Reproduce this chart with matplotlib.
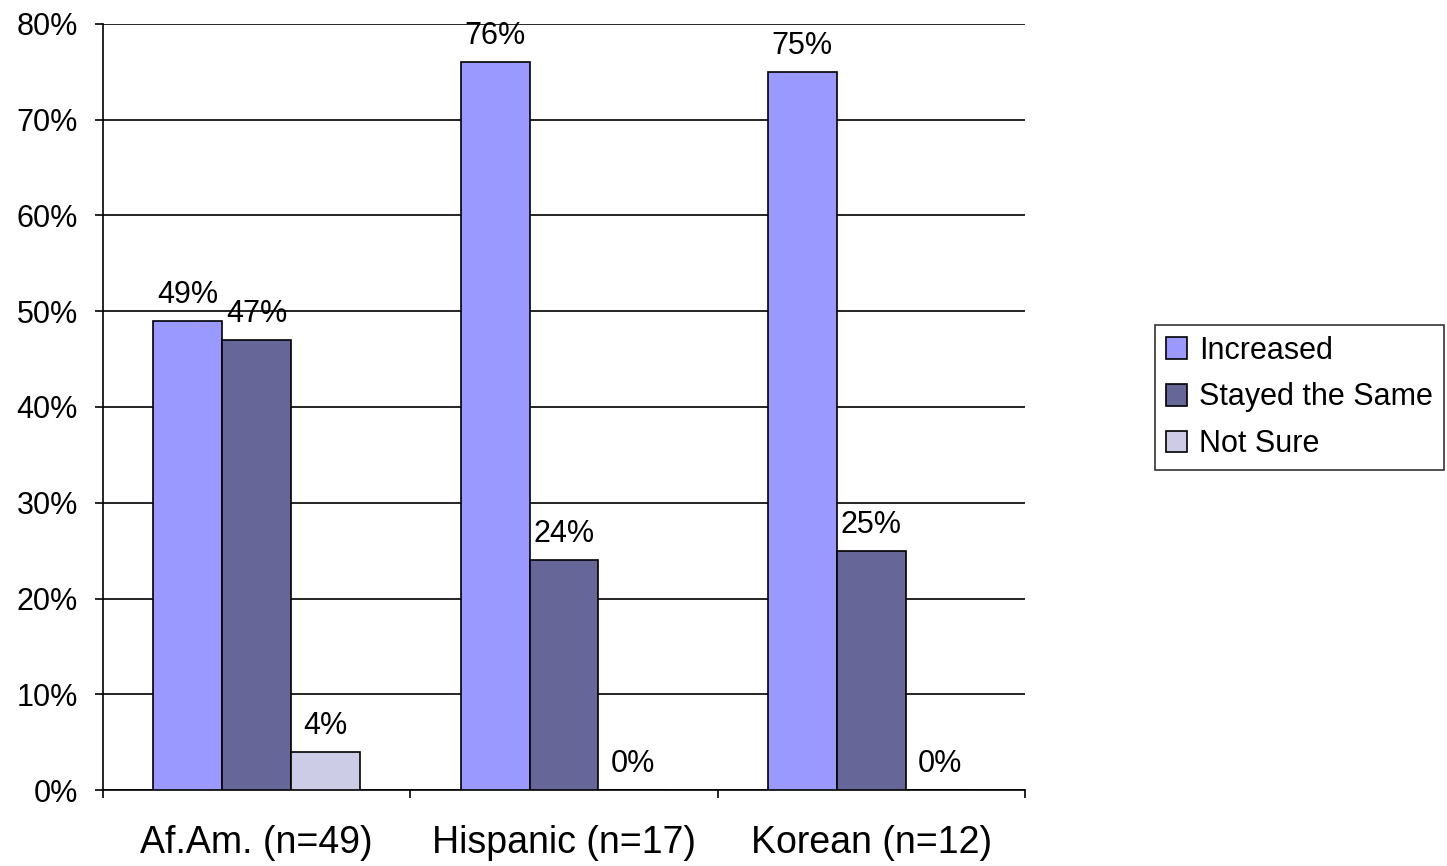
import matplotlib
matplotlib.use("Agg")
import matplotlib.pyplot as plt
from matplotlib.patches import Patch
import numpy as np

plt.rcParams['font.family'] = ['Liberation Sans', 'DejaVu Sans']

categories = ["Af.Am. (n=49)", "Hispanic (n=17)", "Korean (n=12)"]
series_names = ["Increased", "Stayed the Same", "Not Sure"]
increased = [49, 76, 75]
stayed = [47, 24, 25]
not_sure = [4, 0, 0]
colors = ["#9999FF", "#666699", "#CCCCE6"]
y_ticks = [0, 10, 20, 30, 40, 50, 60, 70, 80]

fig = plt.figure(figsize=(14.47, 8.66), dpi=100)
ax = fig.add_axes([103/1447, 1-790/866, (1025-103)/1447, (790-24)/866])

x = np.arange(len(categories))
w = 0.2245
series = [increased, stayed, not_sure]
for i, (vals, col) in enumerate(zip(series, colors)):
    pos = x + (i - 1) * w
    ax.bar(pos, vals, width=w, color=col, edgecolor="black", linewidth=1.2, zorder=3)
    for px, v in zip(pos, vals):
        ax.annotate(f"{v}%", (px, v), xytext=(0, 8), textcoords="offset points",
                    ha="center", va="bottom", fontsize=22, zorder=4)

ax.set_xlim(-0.5, 2.5)
ax.set_ylim(0, 80)
ax.set_yticks(y_ticks)
ax.set_yticklabels([f"{t}%" for t in y_ticks], fontsize=22)
ax.yaxis.grid(True, color="black", linewidth=1.2, zorder=0)
ax.set_axisbelow(True)

ax.set_xticks([-0.5, 0.5, 1.5, 2.5])
ax.set_xticklabels([])
ax.set_xticks(x, minor=True)
ax.set_xticklabels(categories, minor=True, fontsize=27)
ax.tick_params(axis="x", which="major", length=6, width=1.2, direction="out")
ax.tick_params(axis="x", which="minor", length=0, pad=25)
ax.tick_params(axis="y", length=6, width=1.2, direction="out", pad=12)

for s in ["top", "right"]:
    ax.spines[s].set_visible(False)
for s in ["left", "bottom"]:
    ax.spines[s].set_linewidth(1.2)
    ax.spines[s].set_color("black")

handles = [Patch(facecolor=c, edgecolor="black", linewidth=1.2) for c in colors]
leg = fig.legend(handles, series_names, loc="upper left",
                 bbox_to_anchor=(1155/1447, 1-325/866),
                 fontsize=22, frameon=True, fancybox=False, shadow=False,
                 handlelength=0.7, handleheight=0.7, handletextpad=0.4,
                 borderpad=0.35, labelspacing=0.55, borderaxespad=0)
leg.get_frame().set_edgecolor("black")
leg.get_frame().set_linewidth(1.2)

fig.savefig("out.png", dpi=100, facecolor="white")
